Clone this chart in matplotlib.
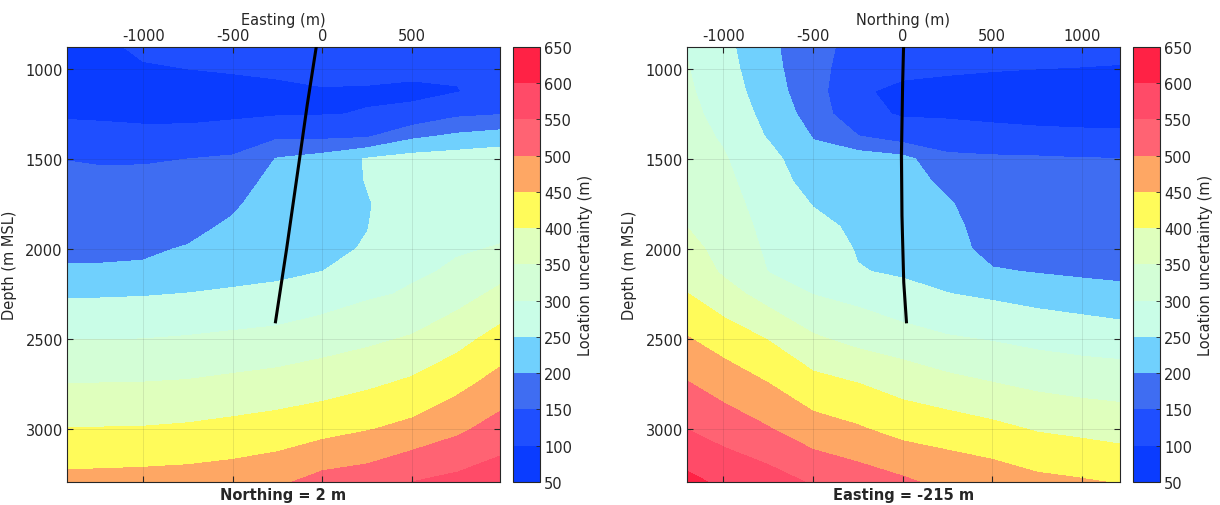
import numpy as np
import matplotlib
matplotlib.use("Agg")
import matplotlib.pyplot as plt

plt.rcParams['font.family'] = 'DejaVu Sans'
plt.rcParams['font.size'] = 10.5
plt.rcParams['axes.unicode_minus'] = False
plt.rcParams['text.color'] = '#262626'
plt.rcParams['axes.labelcolor'] = '#262626'
plt.rcParams['xtick.color'] = '#262626'
plt.rcParams['ytick.color'] = '#262626'

# colour bands of the colorbar (m)
levels = [50, 100, 150, 200, 250, 300, 350, 400, 450, 500, 550, 600, 650]
band_colors = ['#0a3cff', '#1f4fff', '#3f6df2', '#70d0fd', '#c9fde7', '#d3fed6',
               '#dfffbd', '#fffb5a', '#fea764', '#ff6373', '#ff4b68', '#ff2245']

# depth rows of both sections (m MSL)
depth_nodes = [875, 1000, 1125, 1250, 1375, 1500, 1625, 1750, 1875, 2000,
               2125, 2250, 2500, 2750, 3000, 3250, 3375]

# section along Easting, Northing = 2 m
easting_nodes = [-1425, -1250, -1000, -750, -500, -250, 0, 250, 500, 750, 1000]
unc_easting = [
    [88, 88, 110, 118, 125, 128, 130, 128, 122, 118, 112],
    [75, 74, 95, 100, 104, 110, 115, 113, 108, 106, 108],
    [72, 73, 80, 82, 85, 88, 96, 95, 93, 98, 115],
    [93, 92, 90, 88, 92, 96, 98, 102, 108, 140, 148],
    [121, 117, 112, 115, 122, 143, 140, 145, 190, 210, 222],
    [149, 146, 146, 150, 156, 203, 220, 254, 270, 275, 282],
    [160, 160, 161, 163, 175, 218, 224, 252, 272, 279, 285],
    [170, 170, 172, 176, 193, 225, 229, 247, 275, 284, 289],
    [181, 180, 182, 188, 207, 230, 235, 249, 279, 290, 294],
    [192, 191, 194, 203, 220, 236, 241, 253, 285, 297, 302],
    [204, 205, 206, 226, 235, 241, 250, 262, 294, 305, 335],
    [244, 245, 247, 251, 256, 261, 276, 293, 305, 330, 362],
    [299, 299, 300, 304, 310, 316, 328, 340, 355, 383, 420],
    [351, 351, 352, 355, 362, 369, 379, 392, 409, 436, 470],
    [401, 402, 403, 407, 414, 422, 433, 447, 463, 490, 521],
    [455, 456, 458, 461, 467, 477, 505, 515, 540, 552, 570],
    [480, 482, 485, 488, 494, 515, 530, 545, 568, 580, 595],
]

# section along Northing, Easting = -215 m
northing_nodes = [-1200, -1000, -750, -500, -250, 0, 250, 500, 750, 1000, 1215]
unc_northing = [
    [297, 264, 212, 165, 135, 120, 118, 115, 112, 110, 108],
    [302, 270, 216, 168, 122, 107, 104, 102, 100, 99, 98],
    [306, 278, 222, 172, 104, 93, 90, 85, 75, 70, 68],
    [311, 286, 234, 180, 112, 96, 94, 88, 80, 75, 74],
    [316, 295, 246, 198, 152, 125, 120, 118, 117, 115, 114],
    [321, 304, 268, 212, 228, 215, 162, 157, 155, 152, 151],
    [328, 310, 276, 229, 233, 222, 188, 165, 162, 158, 156],
    [337, 317, 282, 248, 238, 228, 205, 172, 168, 164, 162],
    [349, 324, 288, 262, 242, 233, 215, 176, 175, 170, 168],
    [366, 333, 293, 274, 247, 239, 224, 180, 183, 178, 175],
    [384, 343, 299, 286, 252, 245, 234, 205, 197, 190, 188],
    [401, 370, 330, 299, 285, 262, 251, 242, 232, 224, 214],
    [453, 428, 398, 357, 336, 322, 305, 297, 287, 280, 276],
    [503, 479, 451, 417, 401, 382, 365, 352, 340, 332, 328],
    [549, 529, 503, 471, 455, 433, 425, 412, 396, 388, 381],
    [603, 581, 562, 534, 516, 497, 478, 468, 452, 445, 437],
    [628, 607, 590, 564, 545, 528, 505, 495, 480, 470, 465],
]

# well track projected on each section
well_easting = [-35, -85, -125, -200, -262]
well_easting_depth = [880, 1200, 1480, 2000, 2405]
well_northing = [5, 0, -7, -4, 6, 21]
well_northing_depth = [880, 1075, 1480, 1815, 2185, 2405]

panels = [
    dict(x=easting_nodes, z=unc_easting, wx=well_easting, wd=well_easting_depth,
         xlim=(-1425, 990), xlabel='Easting (m)', title='Northing = 2 m',
         xticks=[-1000, -500, 0, 500], ax_pos=[0.0549, 0.0455, 0.3549, 0.8597],
         cb_pos=[0.4205, 0.0455, 0.0221, 0.8597]),
    dict(x=northing_nodes, z=unc_northing, wx=well_northing, wd=well_northing_depth,
         xlim=(-1203, 1212), xlabel='Northing (m)', title='Easting = -215 m',
         xticks=[-1000, -500, 0, 500, 1000], ax_pos=[0.5631, 0.0455, 0.3549, 0.8597],
         cb_pos=[0.9287, 0.0455, 0.0221, 0.8597]),
]

fig = plt.figure(figsize=(12.2, 5.06), dpi=100)

for p in panels:
    ax = fig.add_axes(p['ax_pos'])
    cs = ax.contourf(p['x'], depth_nodes, np.array(p['z']), levels=levels,
                     colors=band_colors)
    ax.plot(p['wx'], p['wd'], color='black', lw=2.2, zorder=4)

    ax.set_xlim(*p['xlim'])
    ax.set_ylim(3295, 878)
    ax.set_xticks(p['xticks'])
    ax.set_yticks([1000, 1500, 2000, 2500, 3000])
    ax.xaxis.tick_top()
    ax.xaxis.set_label_position('top')
    ax.set_xlabel(p['xlabel'], labelpad=3)
    ax.set_ylabel('Depth (m MSL)', labelpad=6)
    ax.tick_params(direction='in', length=4, width=0.8, top=True, bottom=True,
                   left=True, right=True, labelbottom=False, pad=3)
    ax.set_axisbelow(False)
    ax.grid(True, color='#262626', alpha=0.12, lw=0.6)
    for s in ax.spines.values():
        s.set_color('#262626')
        s.set_linewidth(0.8)
    ax.text(0.5, -0.012, p['title'], transform=ax.transAxes, ha='center',
            va='top', fontweight='bold')

    cax = fig.add_axes(p['cb_pos'])
    cb = fig.colorbar(cs, cax=cax, ticks=levels)
    cb.set_label('Location uncertainty (m)', labelpad=4)
    cb.ax.tick_params(direction='in', length=3, width=0.6, pad=3)
    cb.outline.set_edgecolor('#262626')
    cb.outline.set_linewidth(0.8)

fig.savefig('out.png', dpi=100)
